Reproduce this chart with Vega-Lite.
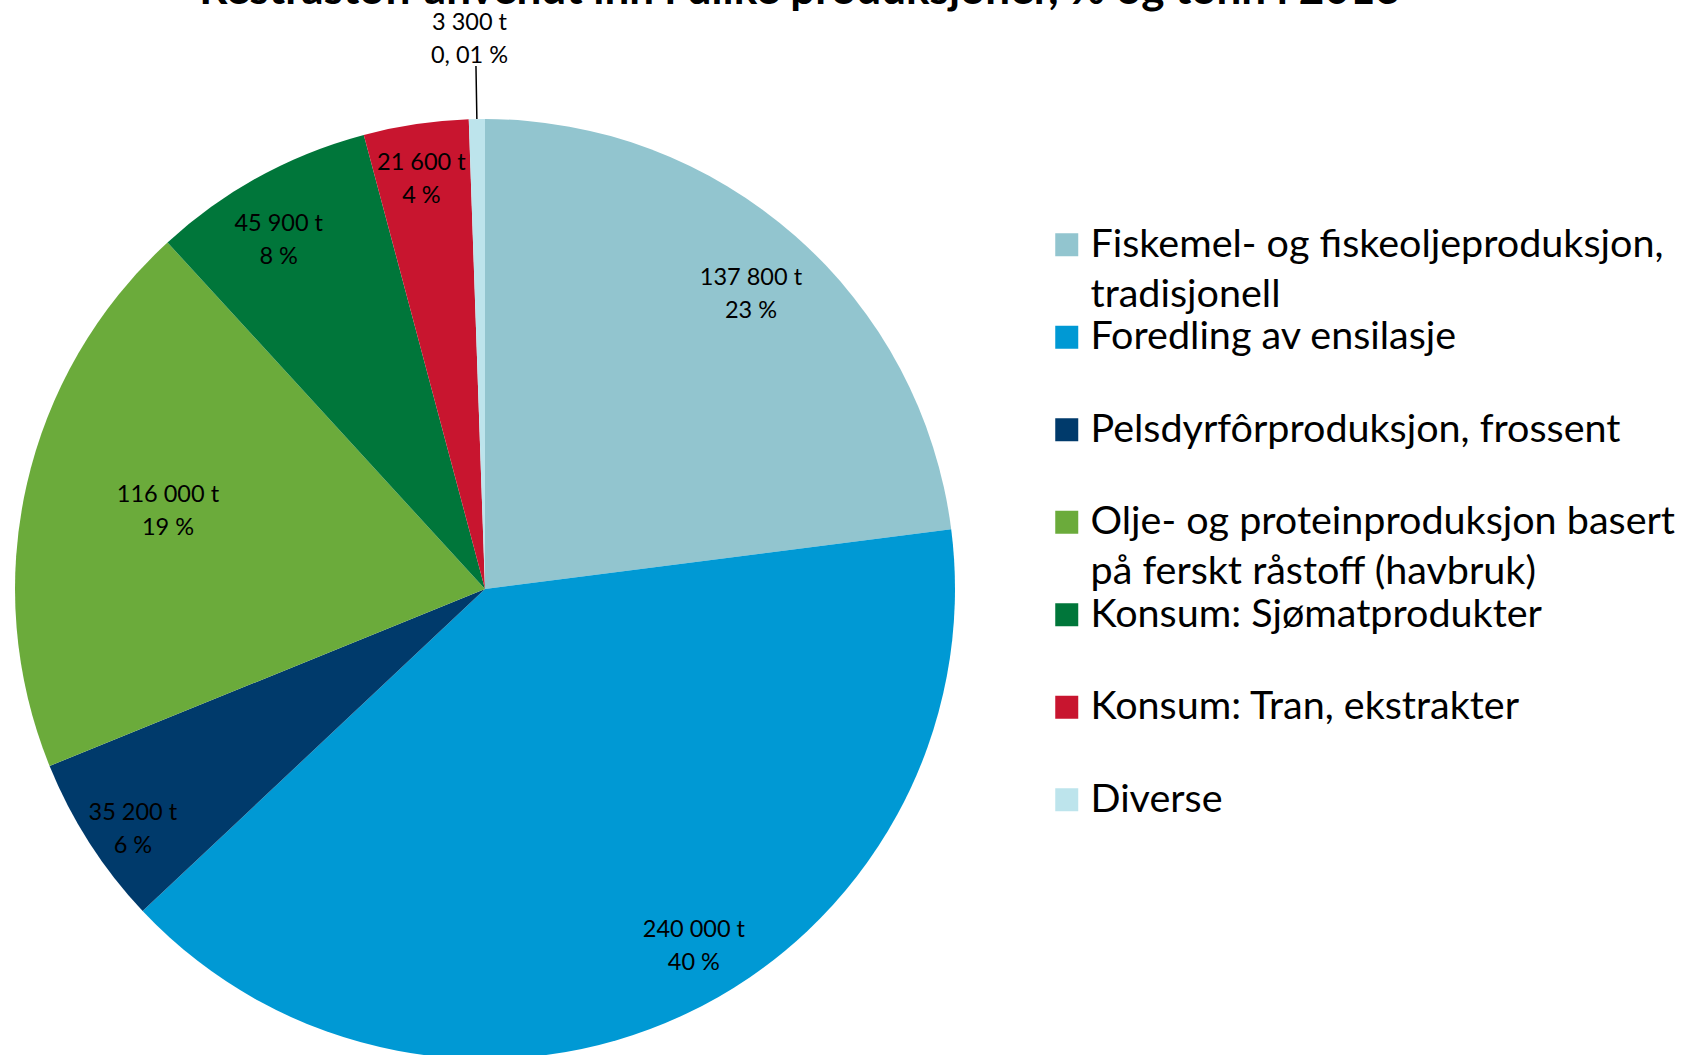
{
  "$schema": "https://vega.github.io/schema/vega-lite/v6.json",
  "autosize": {"type": "none"},
  "width": 970,
  "height": 932,
  "padding": {"left": 0, "top": 123, "right": 713, "bottom": 0},
  "background": "white",
  "title": {
    "text": "Restråstoff anvendt inn i ulike produksjoner, % og tonn i 2013",
    "font": "Lato",
    "fontSize": 44,
    "fontWeight": "bold",
    "color": "#000000",
    "frame": "group",
    "anchor": "middle",
    "baseline": "alphabetic",
    "limit": 1600,
    "dx": 315,
    "dy": 37,
    "offset": 0
  },
  "data": {
    "values": [
      {"cat": "Fiskemel- og fiskeoljeproduksjon, tradisjonell", "value": 137800, "tonn": "137 800 t", "pct": "23 %", "order": 1},
      {"cat": "Foredling av ensilasje", "value": 240000, "tonn": "240 000 t", "pct": "40 %", "order": 2},
      {"cat": "Pelsdyrfôrproduksjon, frossent", "value": 35200, "tonn": "35 200 t", "pct": "6 %", "order": 3},
      {"cat": "Olje- og proteinproduksjon basert på ferskt råstoff (havbruk)", "value": 116000, "tonn": "116 000 t", "pct": "19 %", "order": 4},
      {"cat": "Konsum: Sjømatprodukter", "value": 45900, "tonn": "45 900 t", "pct": "8 %", "order": 5},
      {"cat": "Konsum: Tran, ekstrakter", "value": 21600, "tonn": "21 600 t", "pct": "4 %", "order": 6},
      {"cat": "Diverse", "value": 3300, "tonn": "3 300 t", "pct": "0, 01 %", "order": 7}
    ]
  },
  "transform": [
    {"stack": "value", "groupby": [], "sort": [{"field": "order", "order": "ascending"}], "as": ["s0", "s1"]},
    {"calculate": "(datum.s0 + datum.s1) / 2", "as": "mid"},
    {"calculate": "datum.tonn + '\\n' + datum.pct", "as": "lbl"}
  ],
  "layer": [
    {
      "mark": {"type": "arc", "radius": 470},
      "encoding": {
        "theta": {"field": "s1", "type": "quantitative", "stack": null, "scale": {"nice": false}},
        "theta2": {"field": "s0"},
        "color": {
          "field": "cat",
          "type": "nominal",
          "scale": {
            "domain": [
              "Fiskemel- og fiskeoljeproduksjon, tradisjonell",
              "Foredling av ensilasje",
              "Pelsdyrfôrproduksjon, frossent",
              "Olje- og proteinproduksjon basert på ferskt råstoff (havbruk)",
              "Konsum: Sjømatprodukter",
              "Konsum: Tran, ekstrakter",
              "Diverse"
            ],
            "range": ["#92C5CF", "#0099D4", "#003A6B", "#6BAB3B", "#00763A", "#C8152F", "#BDE4EC"]
          },
          "legend": {
            "title": null,
            "orient": "none",
            "legendX": 1047,
            "legendY": 102,
            "padding": 0,
            "symbolType": "square",
            "symbolSize": 529,
            "symbolStrokeWidth": 0,
            "symbolOpacity": 1,
            "labelFont": "Lato",
            "labelFontSize": 39.5,
            "labelColor": "#000000",
            "labelOffset": 4,
            "labelLimit": 700,
            "labelBaseline": "alphabetic",
            "gridAlign": "all",
            "rowPadding": 1.5,
            "labelExpr": "datum.label == 'Fiskemel- og fiskeoljeproduksjon, tradisjonell' ? ['Fiskemel- og fiskeoljeproduksjon,', 'tradisjonell'] : datum.label == 'Olje- og proteinproduksjon basert på ferskt råstoff (havbruk)' ? ['Olje- og proteinproduksjon basert', 'på ferskt råstoff (havbruk)'] : datum.label",
            "encoding": {"labels": {"dy": {"value": 12}, "lineHeight": {"value": 50}}}
          }
        }
      }
    },
    {
      "transform": [{"filter": {"field": "cat", "equal": "Konsum: Tran, ekstrakter"}}],
      "mark": {"type": "text", "align": "center", "baseline": "middle", "lineBreak": "\n", "lineHeight": 33, "dy": -18, "dx": -3, "font": "Lato", "fontSize": 23.5, "color": "#000000"},
      "encoding": {
        "theta": {"field": "mid", "type": "quantitative", "stack": null},
        "radius": {"value": 412},
        "text": {"field": "lbl", "type": "nominal"}
      }
    },
    {
      "transform": [{"filter": {"field": "cat", "equal": "Konsum: Sjømatprodukter"}}],
      "mark": {"type": "text", "align": "center", "baseline": "middle", "lineBreak": "\n", "lineHeight": 33, "dy": -18, "dx": -16, "font": "Lato", "fontSize": 23.5, "color": "#000000"},
      "encoding": {
        "theta": {"field": "mid", "type": "quantitative", "stack": null},
        "radius": {"value": 396},
        "text": {"field": "lbl", "type": "nominal"}
      }
    },
    {
      "transform": [{"filter": {"field": "cat", "equal": "Foredling av ensilasje"}}],
      "mark": {"type": "text", "align": "center", "baseline": "middle", "lineBreak": "\n", "lineHeight": 33, "dy": -19, "dx": 39, "font": "Lato", "fontSize": 23.5, "color": "#000000"},
      "encoding": {
        "theta": {"field": "mid", "type": "quantitative", "stack": null},
        "radius": {"value": 398},
        "text": {"field": "lbl", "type": "nominal"}
      }
    },
    {
      "transform": [{"filter": {"field": "cat", "equal": "Fiskemel- og fiskeoljeproduksjon, tradisjonell"}}],
      "mark": {"type": "text", "align": "center", "baseline": "middle", "lineBreak": "\n", "lineHeight": 33, "dy": -12, "dx": 3, "font": "Lato", "fontSize": 23.5, "color": "#000000"},
      "encoding": {
        "theta": {"field": "mid", "type": "quantitative", "stack": null},
        "radius": {"value": 398},
        "text": {"field": "lbl", "type": "nominal"}
      }
    },
    {
      "transform": [{"filter": {"field": "cat", "equal": "Pelsdyrfôrproduksjon, frossent"}}],
      "mark": {"type": "text", "align": "center", "baseline": "middle", "lineBreak": "\n", "lineHeight": 33, "dy": -11, "dx": 14, "font": "Lato", "fontSize": 23.5, "color": "#000000"},
      "encoding": {
        "theta": {"field": "mid", "type": "quantitative", "stack": null},
        "radius": {"value": 435},
        "text": {"field": "lbl", "type": "nominal"}
      }
    },
    {
      "transform": [{"filter": {"field": "cat", "equal": "Olje- og proteinproduksjon basert på ferskt råstoff (havbruk)"}}],
      "mark": {"type": "text", "align": "center", "baseline": "middle", "lineBreak": "\n", "lineHeight": 33, "dy": -23, "font": "Lato", "fontSize": 23.5, "color": "#000000"},
      "encoding": {
        "theta": {"field": "mid", "type": "quantitative", "stack": null},
        "radius": {"value": 325},
        "text": {"field": "lbl", "type": "nominal"}
      }
    },
    {
      "transform": [{"filter": {"field": "cat", "equal": "Diverse"}}],
      "mark": {"type": "text", "align": "center", "baseline": "middle", "lineBreak": "\n", "lineHeight": 33, "dy": -16, "dx": -6, "font": "Lato", "fontSize": 23.5, "color": "#000000"},
      "encoding": {
        "theta": {"field": "mid", "type": "quantitative", "stack": null},
        "radius": {"value": 550},
        "text": {"field": "lbl", "type": "nominal"}
      }
    },
    {
      "transform": [{"filter": {"field": "cat", "equal": "Diverse"}}],
      "mark": {"type": "arc", "radius": 523, "radius2": 470, "stroke": "#000000", "strokeWidth": 1.5, "fillOpacity": 0},
      "encoding": {
        "theta": {"field": "mid", "type": "quantitative", "stack": null},
        "theta2": {"field": "mid"}
      }
    }
  ],
  "config": {"view": {"stroke": null}}
}
